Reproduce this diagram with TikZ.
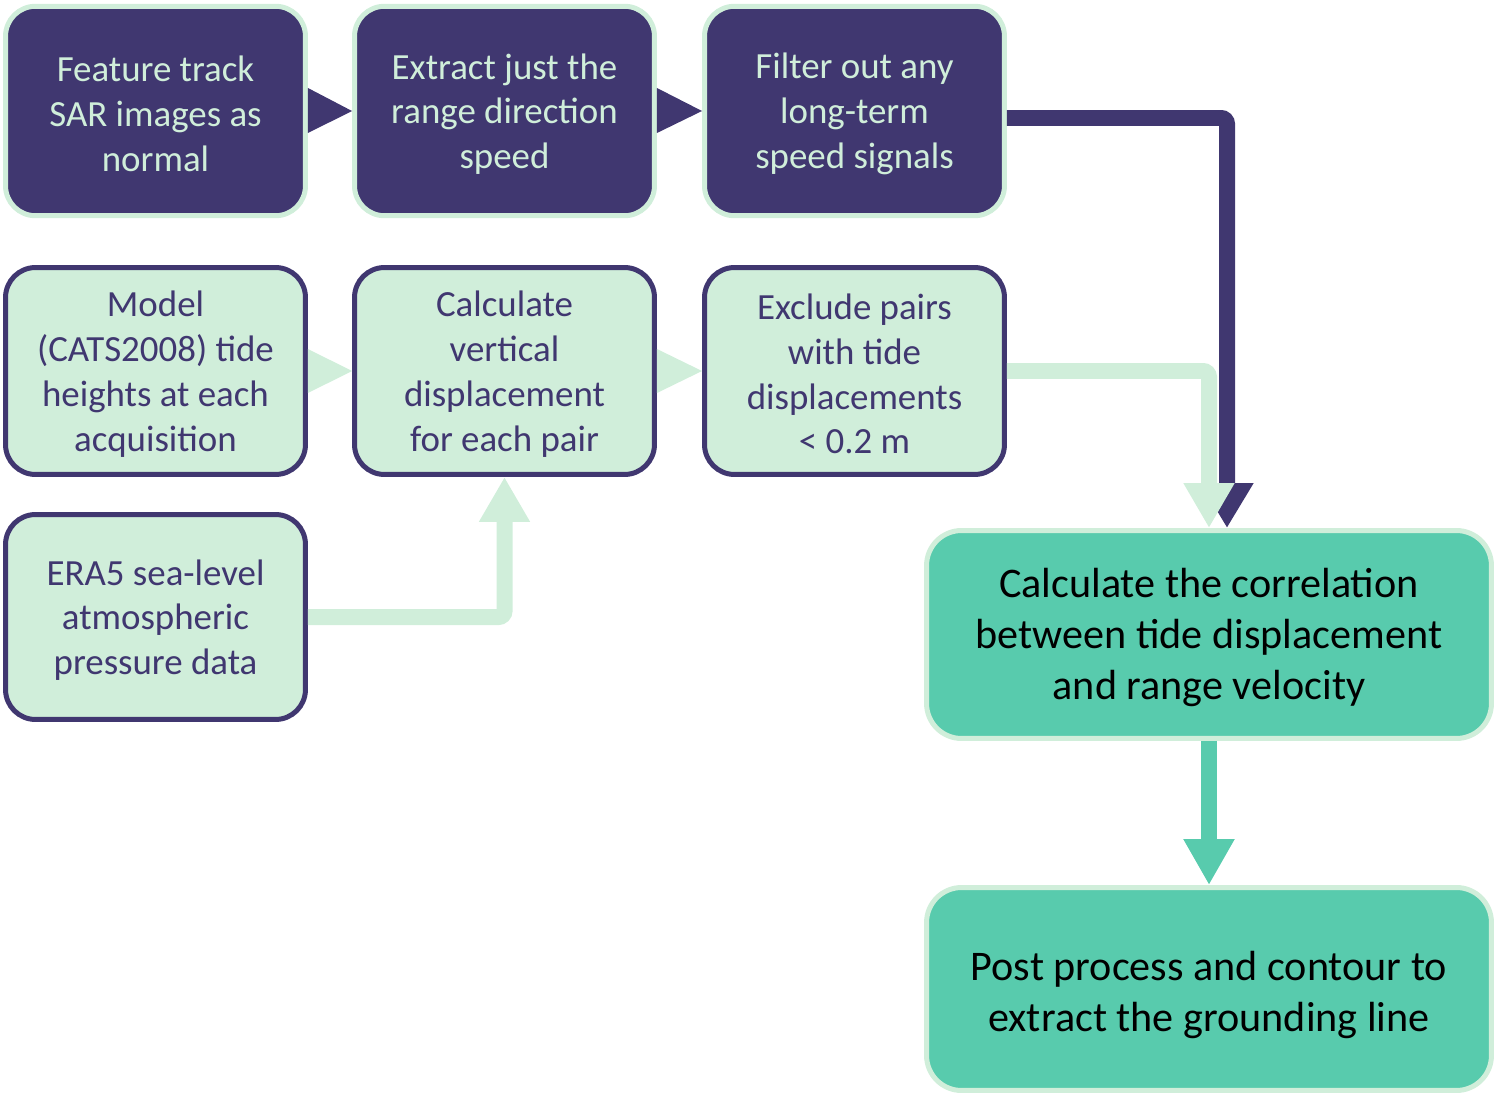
\documentclass[tikz,border=0pt]{standalone}
\usepackage{fontspec}
\setmainfont{Carlito}
\usetikzlibrary{arrows.meta,calc}
\definecolor{purp}{HTML}{403770}
\definecolor{lgreen}{HTML}{D0EEDA}
\definecolor{teal2}{HTML}{58CBAD}
\newcommand\topstrut[1]{\rule{0pt}{#1}}
\begin{document}
\begin{tikzpicture}[x=0.02cm,y=-0.02cm,
  base/.style={rounded corners=0.6cm, line width=0.1cm, align=center, minimum width=6cm, minimum height=4.19cm, inner sep=0pt, font=\fontsize{21}{25.5}\selectfont},
  darkbox/.style={base, draw=lgreen, fill=purp, text=lgreen},
  lightbox/.style={base, draw=purp, fill=lgreen, text=purp},
  bigbox/.style={base, draw=lgreen, fill=teal2, text=black, minimum width=11.3cm, rounded corners=0.7cm, font=\fontsize{24}{29}\selectfont},
  conn/.style={line width=0.32cm, rounded corners=0.12cm},
  head/.style={-{Triangle[length=0.9cm,width=0.96cm]}}
]
\useasboundingbox (0,0) rectangle (1499,1095);

\node[darkbox] (b1) at (155.5,111) {\topstrut{18pt}Feature track\\SAR images as\\normal};
\node[darkbox] (b2) at (504.5,111) {\topstrut{18pt}Extract just the\\range direction\\speed};
\node[darkbox] (b3) at (854.5,111) {\topstrut{18pt}Filter out any\\long-term\\speed signals};

\node[lightbox, minimum height=4.14cm] (b4) at (155.5,371) {\topstrut{18pt}Model\\(CATS2008) tide\\heights at each\\acquisition};
\node[lightbox, minimum height=4.14cm] (b5) at (504.5,371) {\topstrut{18pt}Calculate\\vertical\\displacement\\for each pair};
\node[lightbox, minimum height=4.14cm] (b6) at (854.5,371) {\topstrut{18pt}Exclude pairs\\with tide\\displacements\\< 0.2 m};

\node[lightbox, minimum height=4.1cm] (b7) at (155.5,617) {\topstrut{18pt}ERA5 sea-level\\atmospheric\\pressure data};

\node[bigbox, minimum height=4.16cm] (c1) at (1209,634.5) {\topstrut{20pt}Calculate the correlation\\between tide displacement\\and range velocity};
\node[bigbox, minimum height=4.06cm] (c2) at (1209,989) {\topstrut{23pt}Post process and contour to\\extract the grounding line};

% triangles between boxes
\fill[purp] ($(b1.east)+(0,-23)$) -- ($(b1.east)+(0,22)$) -- (b2.west) -- cycle;
\fill[purp] ($(b2.east)+(0,-23)$) -- ($(b2.east)+(0,22)$) -- (b3.west) -- cycle;
\fill[lgreen] ($(b4.east)+(0,-22)$) -- ($(b4.east)+(0,22)$) -- (b5.west) -- cycle;
\fill[lgreen] ($(b5.east)+(0,-22)$) -- ($(b5.east)+(0,22)$) -- (b6.west) -- cycle;

% connectors
\draw[conn, purp, -{Triangle[length=0.9cm,width=1.0cm]}] ($(b3.east)+(0,7)$) -| ($(c1.north)+(18,0)$);
\draw[conn, lgreen, head] (b6.east) -| (c1.north);
\draw[conn, lgreen, head] (b7.east) -| (b5.south);
\draw[conn, teal2, -{Triangle[length=0.92cm,width=0.96cm]}] (c1.south) -- (c2.north);
\end{tikzpicture}
\end{document}
